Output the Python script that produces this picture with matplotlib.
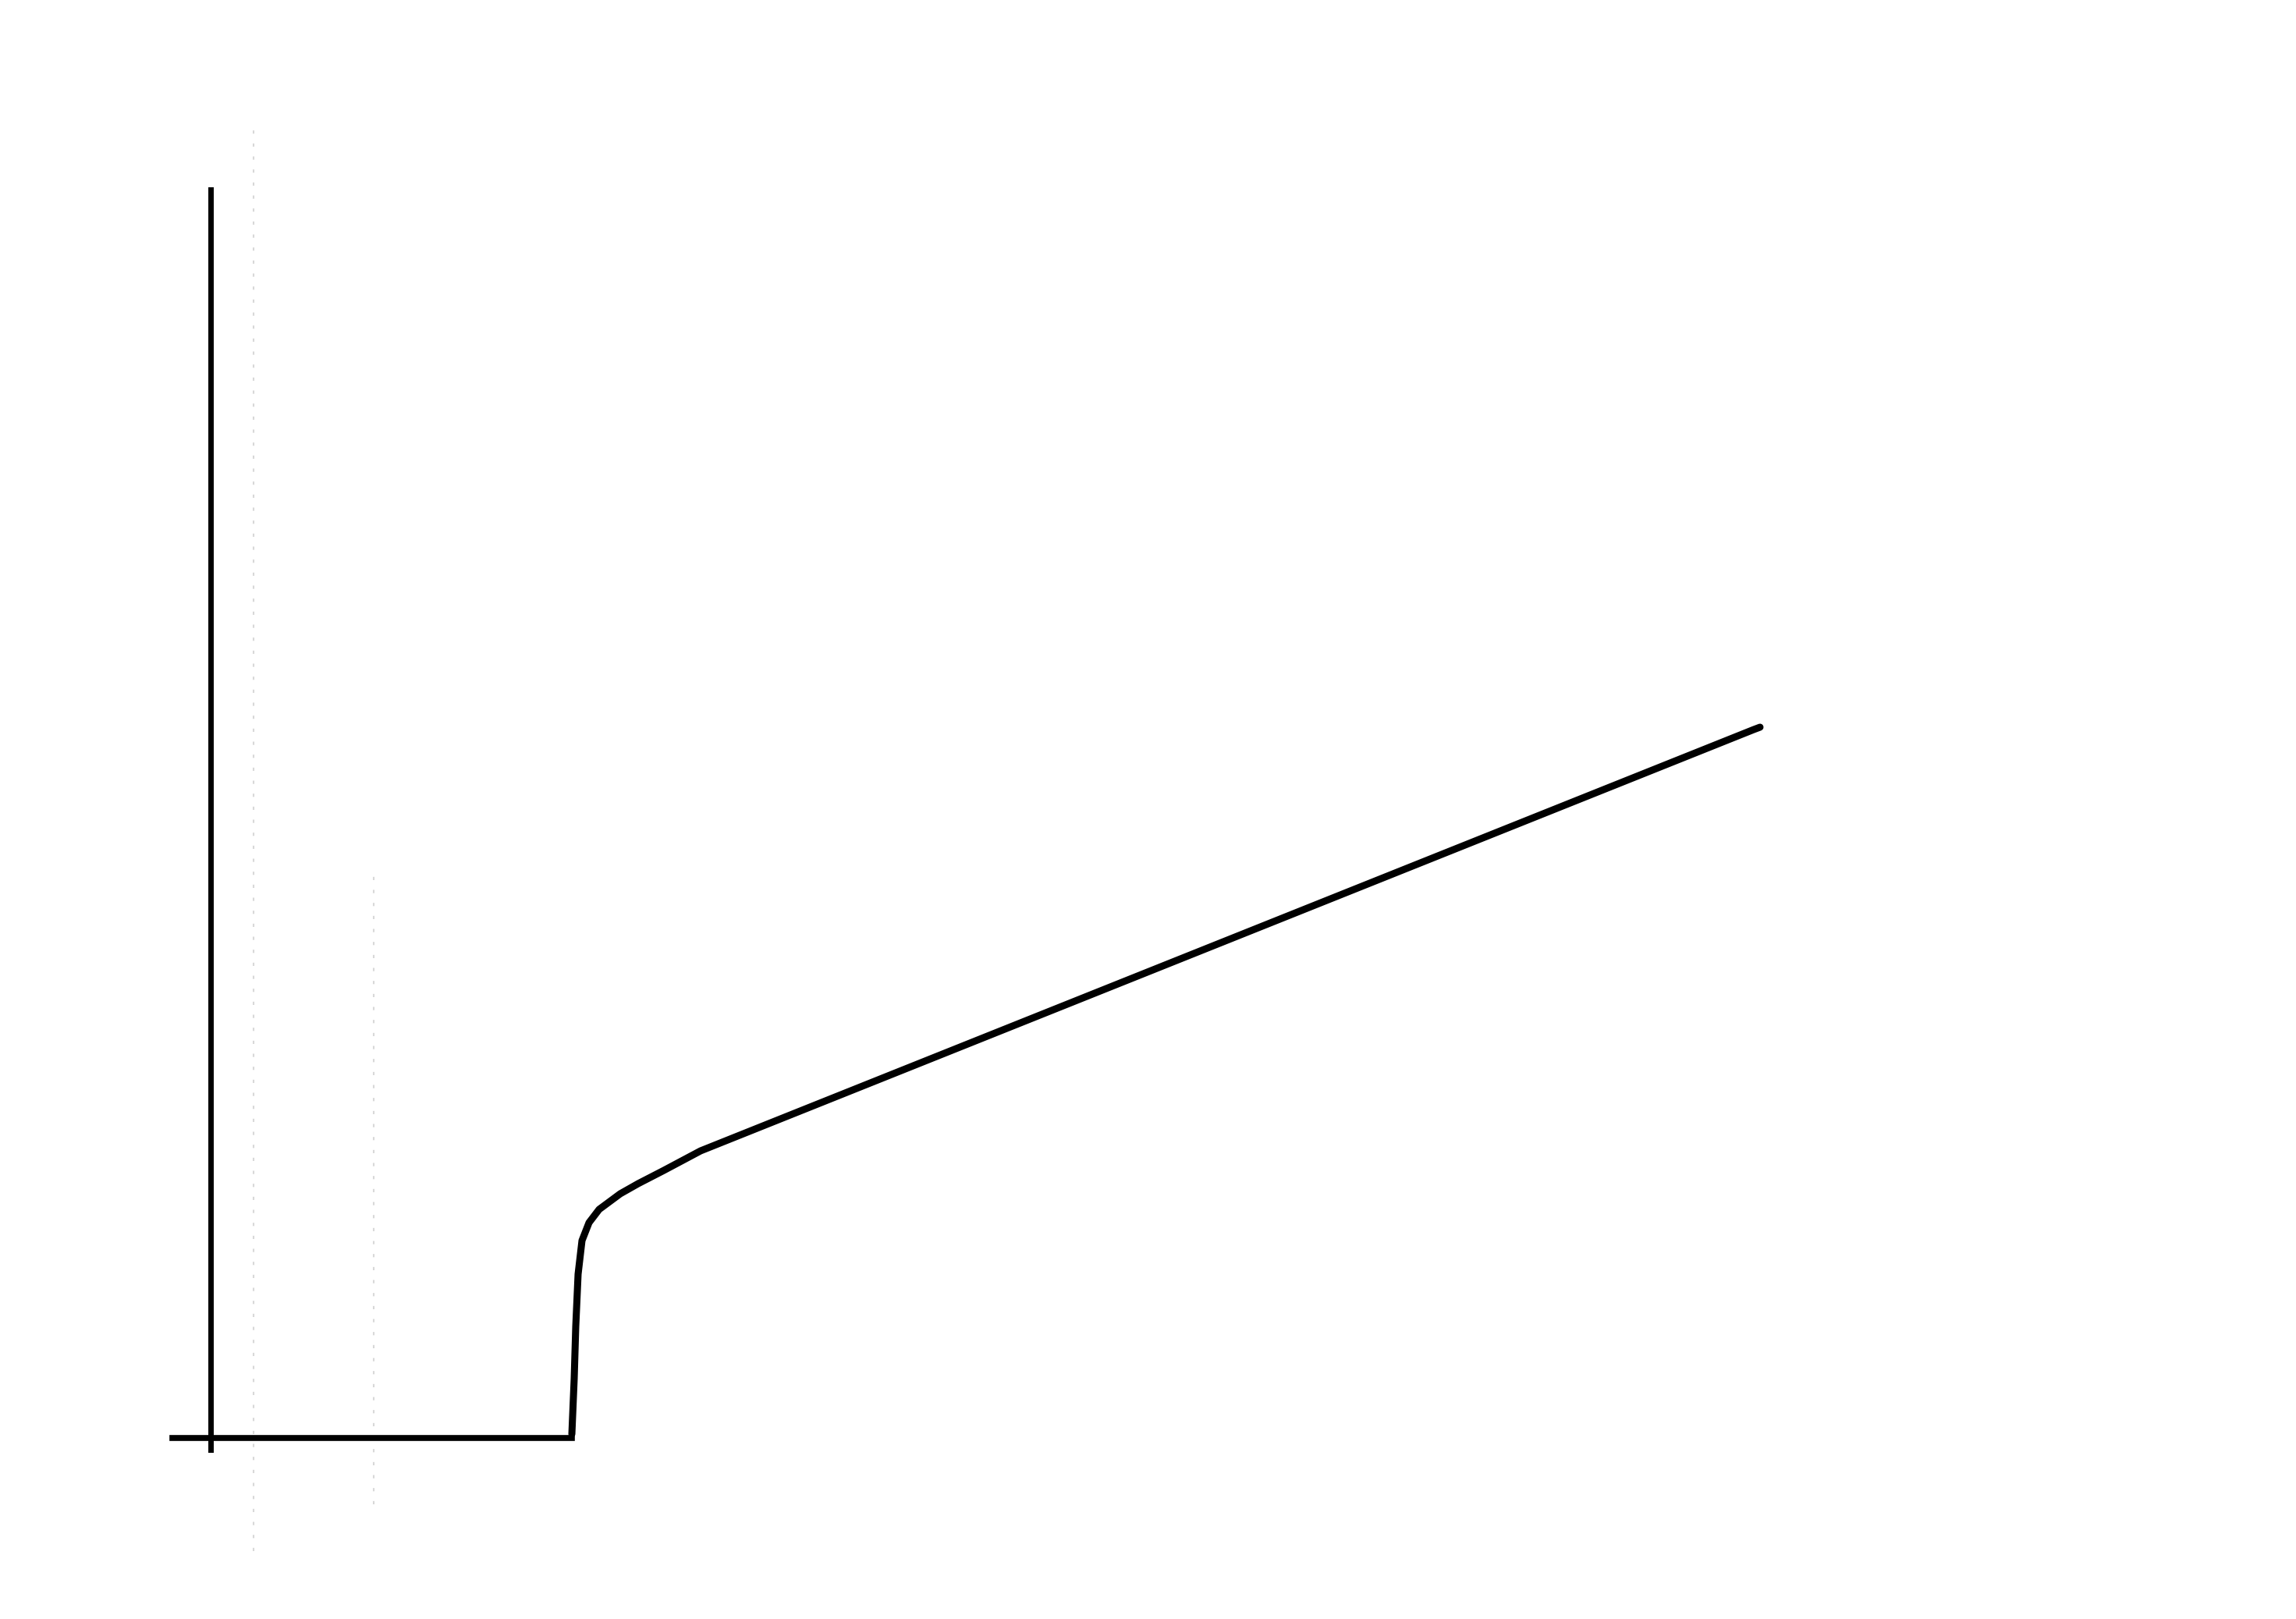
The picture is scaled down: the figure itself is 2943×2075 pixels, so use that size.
import matplotlib
matplotlib.use('Agg')
import matplotlib.pyplot as plt
import numpy as np

# curve (arbitrary units, origin at the axis crossing)
curve_x = [4.63, 4.66, 4.68, 4.71, 4.76, 4.85, 4.98, 5.25, 5.48, 5.81,
           6.28, 8.28, 11.28, 14.28, 17.28, 19.78, 19.86]
curve_y = [0.05, 0.76, 1.43, 2.10, 2.53, 2.76, 2.93, 3.13, 3.26, 3.43,
           3.68, 4.48, 5.68, 6.88, 8.08, 9.08, 9.11]

# extent of the drawn axes
x_axis_range = [-0.49, 4.63]
y_axis_range = [-0.15, 16.0]

# faint scan lines
faint_x = [0.55, 2.09]
faint_lo = [-1.45, -0.85]
faint_hi = [16.8, 7.2]

fig = plt.figure(figsize=(29.43, 20.75), dpi=100)
ax = fig.add_axes([0, 0, 1, 1])
ax.set_xlim(-2.70, 26.73)
ax.set_ylim(-2.32, 18.43)

for s in ['top', 'right']:
    ax.spines[s].set_visible(False)
ax.spines['left'].set_position(('data', 0))
ax.spines['bottom'].set_position(('data', 0))
ax.spines['left'].set_bounds(*y_axis_range)
ax.spines['bottom'].set_bounds(*x_axis_range)
ax.spines['left'].set_linewidth(5)
ax.spines['bottom'].set_linewidth(5.5)
ax.spines['left'].set_color('black')
ax.spines['bottom'].set_color('black')
ax.set_xticks([])
ax.set_yticks([])
ax.patch.set_alpha(0)

ax.vlines(faint_x, faint_lo, faint_hi, colors='#d8d8d8', linestyles=(0, (2, 6)), linewidth=1.5)

ax.plot(curve_x, curve_y, color='black', linewidth=6.5, solid_capstyle='round', solid_joinstyle='round')

fig.savefig('out.png', dpi=100, facecolor='white')
